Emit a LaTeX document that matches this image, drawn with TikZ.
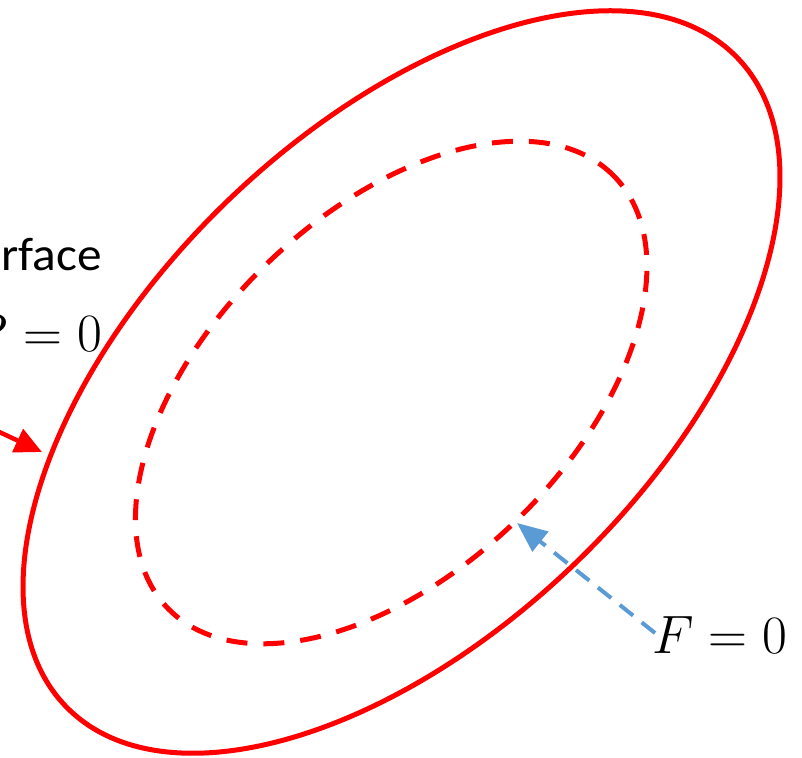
\documentclass[tikz,border=0pt]{standalone}
\usepackage{fix-cm}
\usepackage{fontspec}
\newfontfamily\calib{Carlito}
\usetikzlibrary{arrows.meta}
\definecolor{ored}{RGB}{255,0,0}
\definecolor{oblue}{RGB}{91,155,213}
\tikzset{
  outerell/.style={draw=ored, line width=5pt},
  innerell/.style={draw=ored, line width=5pt, dash pattern=on 21pt off 16pt},
  redarrow/.style={draw=ored, line width=4.5pt, -{Triangle[length=27pt,width=25pt]}},
  bluearrow/.style={draw=oblue, line width=4pt, dash pattern=on 17pt off 11pt, -{Triangle[length=30pt,width=25pt]}},
  lbl/.style={inner sep=0pt, outer sep=0pt}
}
\begin{document}
\begin{tikzpicture}[x=1pt,y=1pt]
\useasboundingbox (0,0) rectangle (802,757);
\clip (0,0) rectangle (802,757);
\draw[outerell, rotate around={44:(401.5,375)}] (401.5,375) ellipse [x radius=466.8, y radius=251.1];
\draw[innerell, rotate around={44:(391.2,364.5)}] (391.2,364.5) ellipse [x radius=310.6, y radius=179];
\node[lbl, anchor=base east, xscale=1.05] (surf) at (102,486) {\calib\fontsize{47}{52}\selectfont surface};
\node[lbl, anchor=base east] (lmath) at (102,405) {\fontsize{54}{60}\selectfont $P=0$};
\node[lbl, anchor=base west] (rmath) at (652,103) {\fontsize{54}{60}\selectfont $F=0$};
\coordinate (rstart) at (-5,327);
\coordinate (rtip) at (42,305);
\coordinate (bstart) at (655,124);
\coordinate (btip) at (517,234);
\draw[redarrow] (rstart) -- (rtip);
\draw[bluearrow] (bstart) -- (btip);
\end{tikzpicture}
\end{document}
